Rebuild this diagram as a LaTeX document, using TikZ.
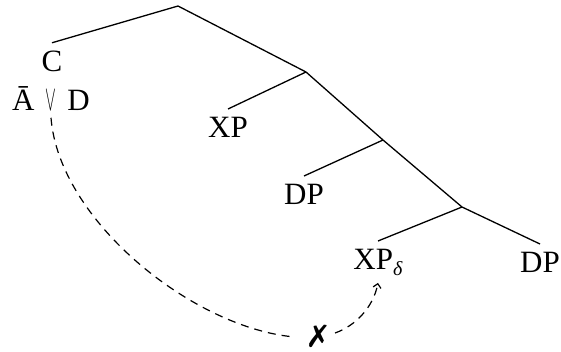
\documentclass[tikz,border=0pt]{standalone}
\usepackage{fontspec}
\setmainfont{Liberation Serif}
\usepackage{graphicx}
\usepackage{pifont}
\usetikzlibrary{arrows.meta}
\tikzset{
  lbl/.style={font=\fontsize{31}{36}\selectfont, inner sep=7.5pt, anchor=base},
  branch/.style={line width=1.3pt},
  move/.style={line width=1.2pt, dash pattern=on 8pt off 6pt},
}
\newcommand{\subdelta}{\raisebox{-6pt}{\fontsize{20}{20}\selectfont\textit{δ}}}
\begin{document}
\begin{tikzpicture}[x=1pt,y=-1pt]
\useasboundingbox (0,0) rectangle (561,351);
% internal tree points
\coordinate (root) at (178,6);
\coordinate (n1) at (306,72);
\coordinate (n2) at (383,140);
\coordinate (n3) at (462,207);
% labels
\node[lbl] (c) at (52,71) {C};
\node[lbl] (ad) at (51,110) {Ā\hspace{11pt}\scalebox{0.65}[1.45]{$\vee$}\hspace{11pt}D};
\node[lbl] (xp) at (228,137) {XP};
\node[lbl] (dp1) at (304,204) {DP};
\node[lbl] (xpd) at (378,269) {XP\subdelta};
\node[lbl] (dp2) at (540,272) {DP};
\node[font=\fontsize{31}{36}\selectfont, inner sep=0pt] (xm) at (318,336.5) {\ding{55}};
% branches
\draw[branch] (c.north) -- (root) -- (n1) -- (n2) -- (n3) -- (dp2.north);
\draw[branch] (n1) -- (xp.north);
\draw[branch] (n2) -- (dp1.north);
\draw[branch] (n3) -- (xpd.north);
% dashed movement path
\coordinate (a) at (290,336.5);
\coordinate (b) at (335,333);
\draw[move] (ad.south) .. controls +(8,102) and +(-100,-11.5) .. (a);
\draw[move, -{Straight Barb[length=4pt,width=8pt]}] (b) .. controls +(20,-7) and +(-5,25) .. (xpd.south);
\end{tikzpicture}
\end{document}
